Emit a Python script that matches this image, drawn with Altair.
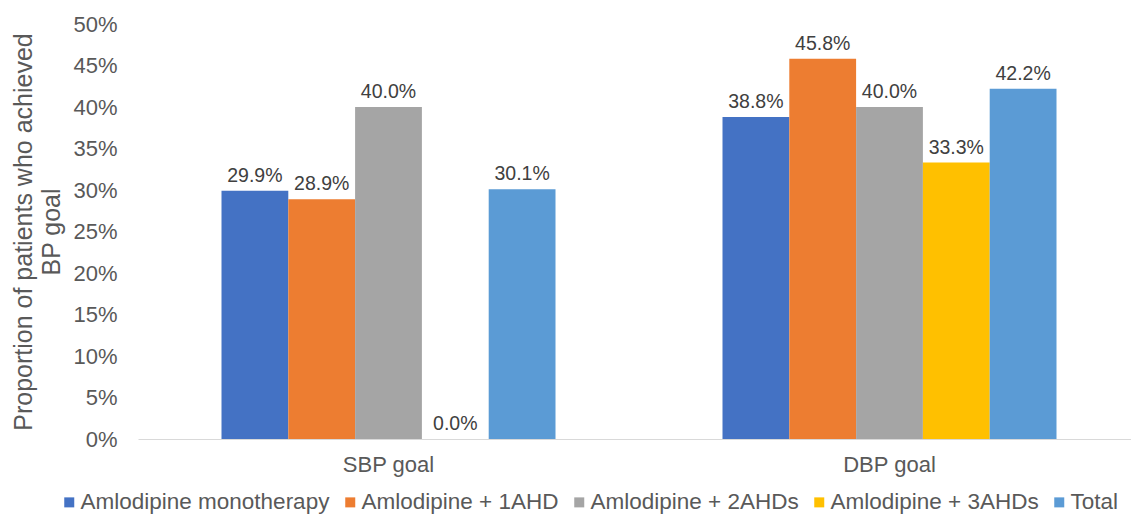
import altair as alt
import pandas as pd

# Share of patients reaching each blood-pressure goal, by treatment group (%)
categories = ["SBP goal", "DBP goal"]
groups = [
    "Amlodipine monotherapy",
    "Amlodipine + 1AHD",
    "Amlodipine + 2AHDs",
    "Amlodipine + 3AHDs",
    "Total",
]
sbp_pct = [29.9, 28.9, 40.0, 0.0, 30.1]
dbp_pct = [38.8, 45.8, 40.0, 33.3, 42.2]
y_ticks = [0, 0.05, 0.10, 0.15, 0.20, 0.25, 0.30, 0.35, 0.40, 0.45, 0.50]
colors = ["#4472C4", "#ED7D31", "#A5A5A5", "#FFC000", "#5B9BD5"]

rows = []
for cat, vals in zip(categories, [sbp_pct, dbp_pct]):
    for g, v in zip(groups, vals):
        rows.append({"goal": cat, "group": g, "share": v / 100})
df = pd.DataFrame(rows)

FONT = "Liberation Sans, Arial, sans-serif"
TXT = "#595959"

x_enc = alt.X(
    "goal:N",
    sort=categories,
    scale=alt.Scale(
        domain=categories, range=[0, 1002], paddingInner=1 / 3, paddingOuter=1 / 6
    ),
    axis=alt.Axis(
        title=None,
        labelAngle=0,
        labelFont=FONT,
        labelFontSize=22,
        labelColor=TXT,
        labelPadding=15,
        ticks=False,
        tickSize=0,
        domainColor="#D9D9D9",
        domainWidth=1,
    ),
)
xo_enc = alt.XOffset(
    "group:N",
    sort=groups,
    scale=alt.Scale(domain=groups, paddingInner=0, paddingOuter=0),
)
y_enc = alt.Y(
    "share:Q",
    scale=alt.Scale(domain=[0, 0.5], nice=False),
    axis=alt.Axis(
        values=y_ticks,
        format=".0%",
        grid=False,
        domain=False,
        ticks=False,
        tickSize=0,
        labelFont=FONT,
        labelFontSize=22,
        labelColor=TXT,
        labelPadding=21,
        title=["Proportion of patients who achieved", "BP goal"],
        titleFont=FONT,
        titleFontSize=25,
        titleFontWeight="normal",
        titleColor=TXT,
        titleAngle=270,
        titleAlign="center",
        titleBaseline="middle",
        titleLineHeight=28,
        titleX=-115,
        titleY=207.5,
    ),
)

bars = alt.Chart(df).mark_bar().encode(
    x=x_enc,
    xOffset=xo_enc,
    y=y_enc,
    color=alt.Color(
        "group:N",
        sort=groups,
        scale=alt.Scale(domain=groups, range=colors),
        legend=alt.Legend(
            orient="none",
            legendX=-80,
            legendY=467,
            direction="horizontal",
            columns=5,
            title=None,
            symbolType="square",
            symbolSize=100,
            symbolStrokeWidth=0,
            labelFont=FONT,
            labelFontSize=22.5,
            labelColor=TXT,
            labelLimit=0,
            labelOffset=0,
            columnPadding=9,
            padding=0,
        ),
    ),
)

labels = alt.Chart(df).mark_text(
    baseline="bottom", dy=-5, font=FONT, fontSize=19.5, color="#404040"
).encode(
    x=x_enc,
    xOffset=xo_enc,
    y=y_enc,
    text=alt.Text("share:Q", format=".1%"),
)

chart = (
    alt.layer(bars, labels)
    .properties(
        width=993,
        height=415,
        autosize=alt.AutoSizeParams(type="none"),
        padding={"left": 138, "top": 24, "right": 0, "bottom": 76},
        background="white",
    )
    .configure_view(stroke=None)
)

chart.save("out.html", embed_options={"renderer": "svg", "actions": False})
